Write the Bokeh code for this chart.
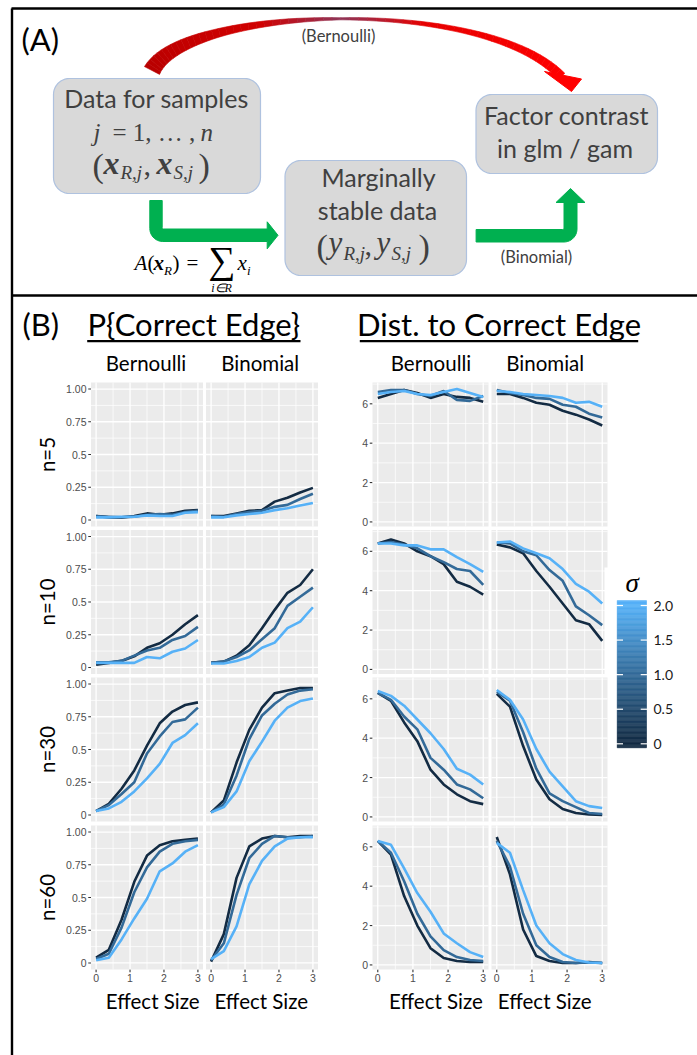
import numpy as np
from bokeh.plotting import figure
from bokeh.models import Range1d
from bokeh.core.properties import value
from bokeh.embed import file_html
from bokeh.resources import INLINE

# ---------------------------------------------------------------- data
effect_size = [0.0, 0.375, 0.75, 1.125, 1.5, 1.875, 2.25, 2.625, 3.0]
sigma_values = [0, 1, 2]
sigma_colors = ["#132B43", "#336A98", "#56B1F7"]
sample_sizes = ["n=5", "n=10", "n=30", "n=60"]
model_names = ["Bernoulli", "Binomial"]

# P{Correct Edge}; each list of three rows = sigma 0, 1, 2
pce_bernoulli_n5 = [[0.03, 0.02, 0.02, 0.03, 0.05, 0.04, 0.05, 0.07, 0.075],
                    [0.03, 0.025, 0.02, 0.025, 0.04, 0.045, 0.04, 0.06, 0.07],
                    [0.02, 0.02, 0.025, 0.025, 0.035, 0.03, 0.03, 0.055, 0.06]]
pce_binomial_n5 = [[0.03, 0.03, 0.05, 0.07, 0.075, 0.14, 0.17, 0.21, 0.245],
                   [0.03, 0.025, 0.045, 0.06, 0.07, 0.1, 0.115, 0.16, 0.2],
                   [0.02, 0.02, 0.035, 0.045, 0.055, 0.075, 0.09, 0.11, 0.13]]
pce_bernoulli_n10 = [[0.02, 0.035, 0.05, 0.085, 0.15, 0.185, 0.25, 0.33, 0.4],
                     [0.04, 0.04, 0.05, 0.09, 0.13, 0.15, 0.21, 0.24, 0.31],
                     [0.035, 0.035, 0.035, 0.035, 0.08, 0.07, 0.12, 0.145, 0.21]]
pce_binomial_n10 = [[0.035, 0.045, 0.09, 0.17, 0.3, 0.44, 0.57, 0.63, 0.75],
                    [0.035, 0.045, 0.08, 0.13, 0.215, 0.3, 0.47, 0.54, 0.61],
                    [0.03, 0.03, 0.05, 0.08, 0.15, 0.19, 0.3, 0.35, 0.46]]
pce_bernoulli_n30 = [[0.03, 0.085, 0.2, 0.34, 0.53, 0.7, 0.79, 0.84, 0.86],
                     [0.03, 0.075, 0.16, 0.25, 0.47, 0.6, 0.71, 0.73, 0.82],
                     [0.03, 0.05, 0.1, 0.18, 0.28, 0.39, 0.55, 0.61, 0.7]]
pce_binomial_n30 = [[0.02, 0.11, 0.4, 0.65, 0.82, 0.93, 0.95, 0.97, 0.97],
                    [0.02, 0.08, 0.3, 0.58, 0.76, 0.85, 0.92, 0.95, 0.96],
                    [0.02, 0.06, 0.18, 0.41, 0.56, 0.72, 0.82, 0.87, 0.89]]
pce_bernoulli_n60 = [[0.04, 0.1, 0.33, 0.62, 0.82, 0.9, 0.93, 0.94, 0.95],
                     [0.03, 0.07, 0.27, 0.54, 0.73, 0.85, 0.91, 0.93, 0.94],
                     [0.02, 0.04, 0.18, 0.34, 0.49, 0.7, 0.76, 0.85, 0.9]]
pce_binomial_n60 = [[0.01, 0.22, 0.65, 0.89, 0.95, 0.97, 0.96, 0.97, 0.97],
                    [0.02, 0.15, 0.52, 0.8, 0.91, 0.97, 0.96, 0.96, 0.97],
                    [0.03, 0.09, 0.28, 0.6, 0.78, 0.89, 0.95, 0.96, 0.96]]

# Dist. to Correct Edge; rows = sigma 0, 1, 2
dist_bernoulli_n5 = [[6.3, 6.5, 6.7, 6.55, 6.3, 6.5, 6.35, 6.3, 6.1],
                     [6.6, 6.7, 6.7, 6.5, 6.4, 6.65, 6.2, 6.15, 6.4],
                     [6.5, 6.6, 6.65, 6.5, 6.45, 6.6, 6.75, 6.55, 6.35]]
dist_binomial_n5 = [[6.5, 6.5, 6.3, 6.05, 5.95, 5.65, 5.45, 5.2, 4.9],
                    [6.7, 6.55, 6.45, 6.3, 6.25, 5.95, 5.85, 5.5, 5.3],
                    [6.65, 6.6, 6.5, 6.45, 6.4, 6.3, 6.05, 6.1, 5.85]]
dist_bernoulli_n10 = [[6.4, 6.6, 6.4, 6.0, 5.75, 5.35, 4.45, 4.2, 3.8],
                      [6.4, 6.47, 6.35, 6.15, 5.75, 5.45, 5.1, 5.0, 4.3],
                      [6.4, 6.4, 6.3, 6.3, 6.1, 6.1, 5.7, 5.35, 4.95]]
dist_binomial_n10 = [[6.35, 6.2, 5.9, 5.0, 4.2, 3.35, 2.5, 2.3, 1.45],
                     [6.45, 6.4, 6.0, 5.8, 5.05, 4.5, 3.2, 2.75, 2.25],
                     [6.45, 6.5, 6.15, 5.9, 5.65, 5.1, 4.35, 3.95, 3.35]]
dist_bernoulli_n30 = [[6.3, 5.9, 4.8, 3.85, 2.4, 1.65, 1.15, 0.8, 0.65],
                      [6.3, 5.95, 5.1, 4.45, 3.0, 2.4, 1.65, 1.4, 0.95],
                      [6.4, 6.15, 5.65, 4.95, 4.25, 3.45, 2.45, 2.15, 1.65]]
dist_binomial_n30 = [[6.25, 5.6, 3.6, 1.9, 0.9, 0.4, 0.2, 0.12, 0.1],
                     [6.35, 5.9, 4.3, 2.45, 1.2, 0.8, 0.5, 0.2, 0.15],
                     [6.45, 5.95, 4.95, 3.45, 2.3, 1.55, 0.8, 0.55, 0.45]]
dist_bernoulli_n60 = [[6.3, 5.6, 3.5, 2.0, 0.85, 0.35, 0.2, 0.15, 0.15],
                      [6.3, 5.7, 4.25, 2.6, 1.45, 0.75, 0.4, 0.25, 0.2],
                      [6.3, 6.1, 4.9, 3.65, 2.7, 1.6, 1.1, 0.65, 0.4]]
dist_binomial_n60 = [[6.5, 4.6, 1.8, 0.45, 0.2, 0.1, 0.1, 0.15, 0.1],
                     [6.3, 5.0, 2.6, 1.0, 0.4, 0.15, 0.1, 0.12, 0.1],
                     [6.2, 5.7, 3.8, 2.0, 1.1, 0.55, 0.25, 0.12, 0.1]]

p_ticks = [0, 0.25, 0.5, 0.75, 1.0]
p_tick_labels = ["0", "0.25", "0.5", "0.75", "1.00"]
d_ticks = [0, 2, 4, 6]
d_tick_labels = ["0", "2", "4", "6"]
x_ticks = [0, 1, 2, 3]
x_tick_labels = ["0", "1", "2", "3"]
sigma_ticks = [0, 0.5, 1.0, 1.5, 2.0]
sigma_tick_labels = ["0", "0.5", "1.0", "1.5", "2.0"]

pce_panels = [[pce_bernoulli_n5, pce_binomial_n5], [pce_bernoulli_n10, pce_binomial_n10],
              [pce_bernoulli_n30, pce_binomial_n30], [pce_bernoulli_n60, pce_binomial_n60]]
dist_panels = [[dist_bernoulli_n5, dist_binomial_n5], [dist_bernoulli_n10, dist_binomial_n10],
               [dist_bernoulli_n30, dist_binomial_n30], [dist_bernoulli_n60, dist_binomial_n60]]

# ---------------------------------------------------------------- canvas
W, H = 697, 1055
p = figure(width=W, height=H, x_range=Range1d(0, W), y_range=Range1d(H, 0),
           output_backend="svg", toolbar_location=None, min_border=0,
           x_axis_type=None, y_axis_type=None, outline_line_color=None,
           background_fill_color="white", border_fill_color="white")

XR, YR = {}, {}


def set_ranges(name, L, T, R, B, xlim, ylim):
    kx = (xlim[1] - xlim[0]) / (R - L)
    ky = (ylim[1] - ylim[0]) / (B - T)
    XR[name] = Range1d(start=xlim[0] - L * kx, end=xlim[1] + (W - R) * kx)
    YR[name] = Range1d(start=ylim[0] - (H - B) * ky, end=ylim[1] + T * ky)


SANS, SER = "Lato", "Liberation Serif"


def label(x, base, s, size, font=SANS, style="normal", align="left", color="#000000"):
    """Place text by its alphabetic baseline (converted to the text-box middle)."""
    k = 0.36 if font == SANS else 0.34
    p.text(x=[x], y=[base - k * size], text=[s], text_font=value(font),
           text_font_size=f"{size}px", text_font_style=style, text_align=align,
           text_baseline="middle", text_color=color)


def shape(xs, ys, color, line=None, lw=1.0):
    p.patch(list(xs), list(ys), fill_color=color, line_color=line if line else color, line_width=lw)


def arc_pts(cx, cy, r, a0, a1, n=12):
    a = np.radians(np.linspace(a0, a1, n))
    return list(cx + r * np.cos(a)), list(cy + r * np.sin(a))


def rounded_rect(x0, y0, x1, y1, r):
    xs, ys = [], []
    for cx, cy, a0, a1 in [(x1 - r, y0 + r, -90, 0), (x1 - r, y1 - r, 0, 90),
                           (x0 + r, y1 - r, 90, 180), (x0 + r, y0 + r, 180, 270)]:
        ax, ay = arc_pts(cx, cy, r, a0, a1)
        xs += ax
        ys += ay
    return xs, ys


def minor_breaks(ticks, lim):
    step = ticks[1] - ticks[0]
    ext = [ticks[0] - step] + list(ticks) + [ticks[-1] + step]
    mids = [(a + b) / 2 for a, b in zip(ext[:-1], ext[1:])]
    return [m for m in mids if lim[0] <= m <= lim[1]]


# ---------------------------------------------------------------- borders
p.segment(x0=[11, 11.5, 11], y0=[8, 8, 295], x1=[W, 11.5, W], y1=[8, H, 295],
          line_color="black", line_width=2.4)

# ---------------------------------------------------------------- panel A
label(21, 50, "(A)", 31)

box_fill, box_line = "#D9D9D9", "#AFC2DF"
for (x0, y0, x1, y1) in [(53, 78, 260, 193), (284.5, 160, 466, 275), (475.5, 94, 657, 173)]:
    bx, by = rounded_rect(x0, y0, x1, y1, 16)
    shape(bx, by, box_fill, box_line, 1.2)

# red curved arrow (Bernoulli)
P0, P1, P2, P3 = np.array([151.5, 70.0]), np.array([185.0, 5.0]), np.array([485.0, -5.0]), np.array([561.0, 76.0])
tt = np.linspace(0, 1, 61)
curve = ((1 - tt) ** 3)[:, None] * P0 + (3 * (1 - tt) ** 2 * tt)[:, None] * P1 + \
        (3 * (1 - tt) * tt ** 2)[:, None] * P2 + (tt ** 3)[:, None] * P3
deriv = (3 * (1 - tt) ** 2)[:, None] * (P1 - P0) + (6 * (1 - tt) * tt)[:, None] * (P2 - P1) + \
        (3 * tt ** 2)[:, None] * (P3 - P2)
nrm = np.stack([-deriv[:, 1], deriv[:, 0]], axis=1)
nrm /= np.linalg.norm(nrm, axis=1)[:, None]
hw = np.interp(tt, [0, 0.25, 0.5, 0.75, 1.0], [8.5, 4.2, 1.1, 2.6, 4.6])
left_edge = curve + nrm * hw[:, None]
right_edge = curve - nrm * hw[:, None]
c_dark, c_bright, c_tint = np.array([184, 0, 0]), np.array([255, 0, 0]), np.array([80, 96, 160])
seg_xs, seg_ys, seg_cols = [], [], []
for i in range(len(tt) - 1):
    t = (tt[i] + tt[i + 1]) / 2
    c = c_dark + (c_bright - c_dark) * t
    wgt = max(0.0, 1 - abs(t - 0.5) / 0.16) * 0.55
    c = c * (1 - wgt) + c_tint * wgt
    seg_cols.append("#%02X%02X%02X" % tuple(int(round(v)) for v in c))
    q = [left_edge[i], left_edge[i + 1], right_edge[i + 1], right_edge[i]]
    seg_xs.append([pt[0] for pt in q])
    seg_ys.append([pt[1] for pt in q])
p.patches(seg_xs, seg_ys, fill_color=seg_cols, line_color=seg_cols, line_width=0.6)
shape([544, 581, 571], [71, 78.5, 91], "#FF0000")
label(338, 41.5, "(Bernoulli)", 16.5, color="#404040", align="center")

# green arrow 1 (aggregation)
xL, xR, yTop, yT, yB, hb, Ro, Ri = 149.3, 161.7, 200, 228.5, 241, 266.7, 13, 1.5
gx, gy = [xL], [yTop]
ax, ay = arc_pts(xL + Ro, yB - Ro, Ro, 180, 90)
gx += ax; gy += ay
gx += [hb, hb, 277.5, hb, hb]; gy += [yB, 248.3, 234.8, 221.3, yT]
ax, ay = arc_pts(xR + Ri, yT - Ri, Ri, 90, 180)
gx += ax; gy += ay
gx += [xR]; gy += [yTop]
shape(gx, gy, "#00B050")

# green arrow 2 (Binomial)
xs0, yT2, yB2, xL2, xR2, hy = 475.6, 229, 241.5, 563.5, 576.5, 202
gx, gy = [xs0], [yT2]
ax, ay = arc_pts(xL2 - Ri, yT2 - Ri, Ri, 90, 0)
gx += ax; gy += ay
gx += [xL2, 555.5, 570, 584.5, xR2]; gy += [hy, hy, 188, hy, hy]
ax, ay = arc_pts(xR2 - Ro, yB2 - Ro, Ro, 0, 90)
gx += ax; gy += ay
gx += [xs0]; gy += [yB2]
shape(gx, gy, "#00B050")
label(536, 262, "(Binomial)", 16.5, color="#404040", align="center")

# box texts
tc = "#404040"
label(156, 106, "Data for samples", 25, color=tc, align="center")
label(93, 140, "j", 25, font=SER, style="italic", color=tc)
label(112, 140, "= 1, \u2026 ,", 25, font=SER, color=tc)
label(200, 140, "n", 25, font=SER, style="italic", color=tc)
label(92, 176.5, "(", 34, font=SER, color=tc)
label(103, 173, "x", 32, font=SER, style="bold italic", color=tc)
label(120, 178.5, "R,j", 19, font=SER, style="italic", color=tc)
label(143, 175, ",", 30, font=SER, color=tc)
label(156, 173, "x", 32, font=SER, style="bold italic", color=tc)
label(173, 178.5, "S,j", 19, font=SER, style="italic", color=tc)
label(198, 176.5, ")", 34, font=SER, color=tc)

label(378, 185, "Marginally", 25, color=tc, align="center")
label(377, 218.3, "stable data", 25, color=tc, align="center")
label(316, 257.5, "(", 34, font=SER, color=tc)
label(328, 253, "y", 31, font=SER, style="italic", color=tc)
label(343, 259, "R,j", 19, font=SER, style="italic", color=tc)
label(364, 255, ",", 30, font=SER, color=tc)
label(376, 253, "y", 31, font=SER, style="italic", color=tc)
label(391, 259, "S,j", 19, font=SER, style="italic", color=tc)
label(418, 257.5, ")", 34, font=SER, color=tc)

label(566, 123.3, "Factor contrast", 25, color=tc, align="center")
label(564.5, 156.7, "in glm / gam", 25, color=tc, align="center")

# aggregation formula
label(134, 270, "A", 21, font=SER, style="italic")
label(147, 270, "(", 21, font=SER)
label(153, 270, "x", 21, font=SER, style="bold italic")
label(163.5, 274, "R", 13, font=SER, style="italic")
label(172, 270, ")", 21, font=SER)
label(186, 270, "=", 21, font=SER)
label(208, 272, "\u2211", 38, font=SER)
label(237, 270, "x", 21, font=SER, style="italic")
label(246.5, 274, "i", 13, font=SER, style="italic")
label(221, 292, "i\u2208R", 12, font=SER, style="italic", align="center")

# ---------------------------------------------------------------- panel B
label(22, 335, "(B)", 31)
label(193.3, 334.5, "P{Correct Edge}", 31, align="center")
label(498.5, 334.5, "Dist. to Correct Edge", 31, align="center")
p.segment(x0=[86.7, 359.3], y0=[340.7] * 2, x1=[300, 637.7], y1=[340.7] * 2,
          line_color="black", line_width=2.2)

P_COLS = [(90.5, 202.5), (205.5, 317.5)]
D_COLS = [(372.0, 488.0), (491.0, 607.0)]
ROW_TOPS = [382.0, 529.5, 677.0, 825.0]
ROW_H = 144.0
title_centers_p = [145.5, 259.7]
title_centers_d = [430.5, 544.7]
xlab_centers_p = [152.2, 260.8]
xlab_centers_d = [435.5, 544.2]

for j, nm in enumerate(model_names):
    label(title_centers_p[j], 370, nm, 20.5, align="center")
    label(title_centers_d[j], 370, nm, 20.5, align="center")
    label(xlab_centers_p[j], 1008.3, "Effect Size", 20.5, align="center")
    label(xlab_centers_d[j], 1008.3, "Effect Size", 20.5, align="center")
row_centers = [t + ROW_H / 2 for t in ROW_TOPS]
p.text(x=[46] * len(sample_sizes), y=row_centers, text=sample_sizes, text_font=value(SANS),
       text_font_size="20.5px", text_align="center", text_baseline="middle",
       text_color="#000000", angle=np.pi / 2)

X_LIM = (-0.15, 3.15)
P_LIM = (-0.05, 1.05)
d_all = np.array(dist_panels).ravel()
d_span = d_all.max() - d_all.min()
D_LIM = (d_all.min() - 0.05 * d_span, d_all.max() + 0.05 * d_span)

TICK_FONT = value("Liberation Sans")


def draw_panel(name, L, R, T, ylim, yticks, ylabels, series, left_axis, bottom_axis):
    B = T + ROW_H
    set_ranges(name, L, T, R, B, X_LIM, ylim)
    kw = dict(x_range_name=name, y_range_name=name)
    if left_axis:
        p.rect(x=[X_LIM[0]] * len(yticks), y=yticks, width=5.5, height=1.1, width_units="screen",
               height_units="screen", fill_color="#333333", line_color=None, **kw)
        p.text(x=[X_LIM[0]] * len(yticks), y=yticks, text=ylabels, x_offset=-4.5, text_align="right",
               text_baseline="middle", text_font=TICK_FONT, text_font_size="10.5px",
               text_color="#4D4D4D", **kw)
    if bottom_axis:
        p.rect(x=x_ticks, y=[ylim[0]] * len(x_ticks), width=1.1, height=5.5, width_units="screen",
               height_units="screen", fill_color="#333333", line_color=None, **kw)
        p.text(x=x_ticks, y=[ylim[0]] * len(x_ticks), text=x_tick_labels, y_offset=8.5,
               text_align="center", text_baseline="middle", text_font=TICK_FONT,
               text_font_size="10.5px", text_color="#4D4D4D", **kw)
    p.quad(left=[X_LIM[0]], right=[X_LIM[1]], bottom=[ylim[0]], top=[ylim[1]],
           fill_color="#EBEBEB", line_color=None, **kw)
    xm = minor_breaks(x_ticks, X_LIM)
    ym = minor_breaks(yticks, ylim)
    p.segment(x0=xm, x1=xm, y0=[ylim[0]] * len(xm), y1=[ylim[1]] * len(xm),
              line_color="white", line_width=0.7, **kw)
    p.segment(x0=[X_LIM[0]] * len(ym), x1=[X_LIM[1]] * len(ym), y0=ym, y1=ym,
              line_color="white", line_width=0.7, **kw)
    p.segment(x0=x_ticks, x1=x_ticks, y0=[ylim[0]] * len(x_ticks), y1=[ylim[1]] * len(x_ticks),
              line_color="white", line_width=1.3, **kw)
    p.segment(x0=[X_LIM[0]] * len(yticks), x1=[X_LIM[1]] * len(yticks), y0=yticks, y1=yticks,
              line_color="white", line_width=1.3, **kw)
    for s in range(len(sigma_values)):
        p.line(effect_size, series[s], line_color=sigma_colors[s], line_width=2.6, **kw)


for i in range(4):
    for j in range(2):
        draw_panel(f"pce_{i}_{j}", P_COLS[j][0], P_COLS[j][1], ROW_TOPS[i], P_LIM,
                   p_ticks, p_tick_labels, pce_panels[i][j], j == 0, i == 3)
        draw_panel(f"dist_{i}_{j}", D_COLS[j][0], D_COLS[j][1], ROW_TOPS[i], D_LIM,
                   d_ticks, d_tick_labels, dist_panels[i][j], j == 0, i == 3)

# legend background slightly overlapping the panel edge
p.quad(left=[604], right=[612], top=[567], bottom=[673.5], fill_color="white", line_color=None)

# ---------------------------------------------------------------- colour bar
set_ranges("cbar", 616.7, 605.0, 646.0, 743.3, (0, 1), (0, 2))
ckw = dict(x_range_name="cbar", y_range_name="cbar")
edges = np.linspace(-0.058, 2.072, 121)
mids = (edges[:-1] + edges[1:]) / 2
rgb = np.array([[int(c[k:k + 2], 16) for k in (1, 3, 5)] for c in sigma_colors], dtype=float)
cols = []
for m in mids:
    mm = min(max(m, 0.0), 2.0)
    cols.append("#%02X%02X%02X" % tuple(int(round(np.interp(mm, sigma_values, rgb[:, k]))) for k in range(3)))
p.quad(left=[0] * len(mids), right=[1] * len(mids), bottom=list(edges[:-1]), top=list(edges[1:]),
       fill_color=cols, line_color=cols, line_width=0.5, **ckw)
p.rect(x=[0] * len(sigma_ticks) + [1] * len(sigma_ticks), y=sigma_ticks * 2, width=11.6, height=1.2,
       width_units="screen", height_units="screen", fill_color="white", line_color=None, **ckw)
p.text(x=[1] * len(sigma_ticks), y=sigma_ticks, text=sigma_tick_labels, x_offset=7,
       text_align="left", text_baseline="middle", text_font=value(SANS),
       text_font_size="14px", text_color="#1A1A1A", **ckw)
label(631.7, 592, "\u03c3", 27, font=SER, style="italic", align="center")

p.extra_x_ranges = XR
p.extra_y_ranges = YR

open("out.html", "w").write(file_html(p, INLINE))
